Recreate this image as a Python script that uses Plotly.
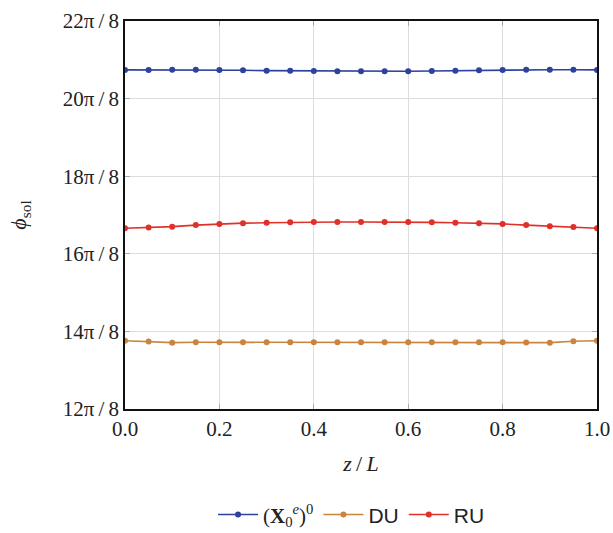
import numpy as np
import plotly.graph_objects as go

# Axial positions z/L
z_over_L = [0.00, 0.05, 0.10, 0.15, 0.20, 0.25, 0.30, 0.35, 0.40, 0.45, 0.50,
            0.55, 0.60, 0.65, 0.70, 0.75, 0.80, 0.85, 0.90, 0.95, 1.00]

# Solution phase, in units of pi/8
phi_x0 = [20.74, 20.74, 20.745, 20.745, 20.74, 20.73, 20.72, 20.715, 20.71, 20.705, 20.705,
          20.705, 20.705, 20.71, 20.72, 20.73, 20.74, 20.745, 20.745, 20.745, 20.74]
phi_du = [13.76, 13.74, 13.71, 13.72, 13.72, 13.72, 13.72, 13.72, 13.72, 13.72, 13.72,
          13.72, 13.72, 13.72, 13.72, 13.72, 13.72, 13.715, 13.71, 13.745, 13.76]
phi_ru = [16.66, 16.68, 16.70, 16.74, 16.77, 16.79, 16.80, 16.81, 16.82, 16.82, 16.82,
          16.82, 16.82, 16.81, 16.80, 16.79, 16.77, 16.74, 16.71, 16.69, 16.66]

tick_units = [12, 14, 16, 18, 20, 22]
tick_text = [f"{k}π\u2009/\u20098" for k in tick_units]
x_ticks = [0, 0.2, 0.4, 0.6, 0.8, 1.0]
x_tick_text = ["0.0", "0.2", "0.4", "0.6", "0.8", "1.0"]

serif = "Liberation Serif, DejaVu Serif, serif"
sans = "Liberation Sans, Arial, sans-serif"

x0_label = ("<span style=\"font-family:'Liberation Serif'\">"
            "(<b>X</b><sub>0</sub><sup><i>e</i></sup>)<sup>0</sup></span>")

series = [
    (x0_label, phi_x0, "#2c429c"),
    ("DU", phi_du, "#c98540"),
    ("RU", phi_ru, "#e0302a"),
]

fig = go.Figure()
for name, vals, color in series:
    fig.add_trace(go.Scatter(
        x=z_over_L,
        y=[v * np.pi / 8 for v in vals],
        mode="lines+markers",
        name=name,
        line=dict(color=color, width=1.6),
        marker=dict(color=color, size=6),
    ))

fig.update_layout(
    width=613, height=533,
    margin=dict(l=125, r=16, t=21, b=124, autoexpand=False),
    plot_bgcolor="white",
    paper_bgcolor="white",
    font=dict(family=serif, size=21, color="#222222"),
    showlegend=True,
    legend=dict(
        orientation="h",
        x=0.48, xanchor="center",
        y=-0.273, yanchor="middle",
        font=dict(family=sans, size=21, color="#222222"),
        itemwidth=40,
    ),
)

fig.update_xaxes(
    range=[0, 1],
    tickvals=x_ticks,
    ticktext=x_tick_text,
    showgrid=True, gridcolor="#dddddd", gridwidth=1,
    showline=True, linecolor="#111111", linewidth=1.6, mirror="ticks",
    ticks="inside", ticklen=5, tickcolor="#aaaaaa",
    zeroline=False, automargin=False,
    title=dict(text="<i>z</i>\u2009/\u2009<i>L</i>", font=dict(family=serif, size=22), standoff=16),
)

fig.update_yaxes(
    range=[12 * np.pi / 8, 22 * np.pi / 8],
    tickvals=[k * np.pi / 8 for k in tick_units],
    ticktext=tick_text,
    showgrid=True, gridcolor="#dddddd", gridwidth=1,
    showline=True, linecolor="#111111", linewidth=1.6, mirror="ticks",
    ticks="inside", ticklen=5, tickcolor="#aaaaaa",
    zeroline=False, automargin=False,
    title=dict(text="<i>ϕ</i><sub>sol</sub>", font=dict(family=serif, size=22), standoff=30),
)

fig.write_html("out.html")
